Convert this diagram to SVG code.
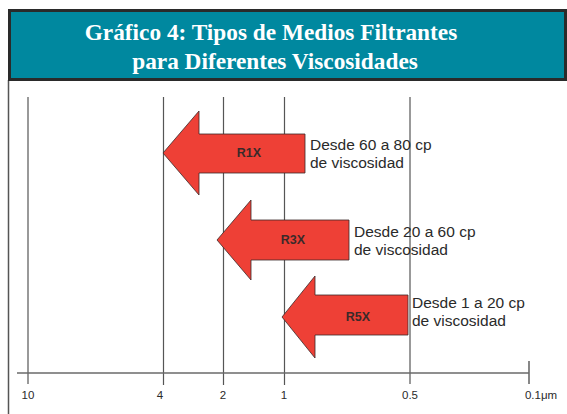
<svg xmlns="http://www.w3.org/2000/svg" width="567" height="414" viewBox="0 0 567 414">
<defs>
<style>
.grid{stroke:#555;stroke-width:1.2;fill:none}
.axis{stroke:#6a6a6a;stroke-width:1.6;fill:none}
.arrow{fill:#ee4036;stroke:#3a2a2a;stroke-width:0.8}
.lbl{font-family:"Liberation Sans",Arial,sans-serif;font-size:12.5px;font-weight:bold;fill:#3a2a2a;text-anchor:middle}
.desc{font-family:"Liberation Sans",Arial,sans-serif;font-size:15.5px;fill:#2a2a2a}
.tick{font-family:"Liberation Sans",Arial,sans-serif;font-size:11.5px;fill:#2a2a2a;text-anchor:middle}
.title{font-family:"Liberation Serif","Times New Roman",serif;font-size:23.3px;font-weight:bold;fill:#fff;text-anchor:middle}
</style>
</defs>
<rect width="567" height="414" fill="#fff"/>
<g id="header">
<line x1="8.5" y1="80" x2="8.5" y2="414" stroke="#555" stroke-width="1.5"/>
<rect x="9.5" y="10.5" width="556" height="69" fill="#00889f" stroke="#2a2a2a" stroke-width="3"/>
<text class="title" x="271" y="40">Gráfico 4: Tipos de Medios Filtrantes</text>
<text class="title" x="275" y="69">para Diferentes Viscosidades</text>
</g>
<g id="connectors">
<line class="grid" x1="28" y1="97" x2="28" y2="384"/>
<line class="grid" x1="163.5" y1="97" x2="163.5" y2="385"/>
<line class="grid" x1="223.5" y1="97" x2="223.5" y2="385"/>
<line class="grid" x1="284.5" y1="97" x2="284.5" y2="385"/>
<line class="grid" x1="410" y1="97" x2="410" y2="384"/>
<line class="axis" x1="17" y1="373" x2="529" y2="373"/>
<line class="axis" x1="529" y1="361" x2="529" y2="384"/>
</g>
<g id="axis-labels">
<text class="tick" x="28" y="399">10</text>
<text class="tick" x="160" y="399">4</text>
<text class="tick" x="223" y="399">2</text>
<text class="tick" x="284" y="399">1</text>
<text class="tick" x="410" y="399">0.5</text>
<text class="tick" x="541" y="399">0.1μm</text>
</g>
<g id="R1X">
<polygon class="arrow" points="163,153 199,111 199,134 305,134 305,173 199,173 199,195"/>
<text class="lbl" x="249" y="157">R1X</text>
<text class="desc" x="310" y="150">Desde 60 a 80 cp</text>
<text class="desc" x="310" y="168">de viscosidad</text>
</g>
<g id="R3X">
<polygon class="arrow" points="217,240 251,200 251,220 349,220 349,260 251,260 251,280"/>
<text class="lbl" x="293" y="244">R3X</text>
<text class="desc" x="354" y="237">Desde 20 a 60 cp</text>
<text class="desc" x="354" y="255">de viscosidad</text>
</g>
<g id="R5X">
<polygon class="arrow" points="282,317 315,276 315,295 408,295 408,335 315,335 315,358"/>
<text class="lbl" x="358" y="321">R5X</text>
<text class="desc" x="412" y="308">Desde 1 a 20 cp</text>
<text class="desc" x="412" y="326">de viscosidad</text>
</g>
</svg>
